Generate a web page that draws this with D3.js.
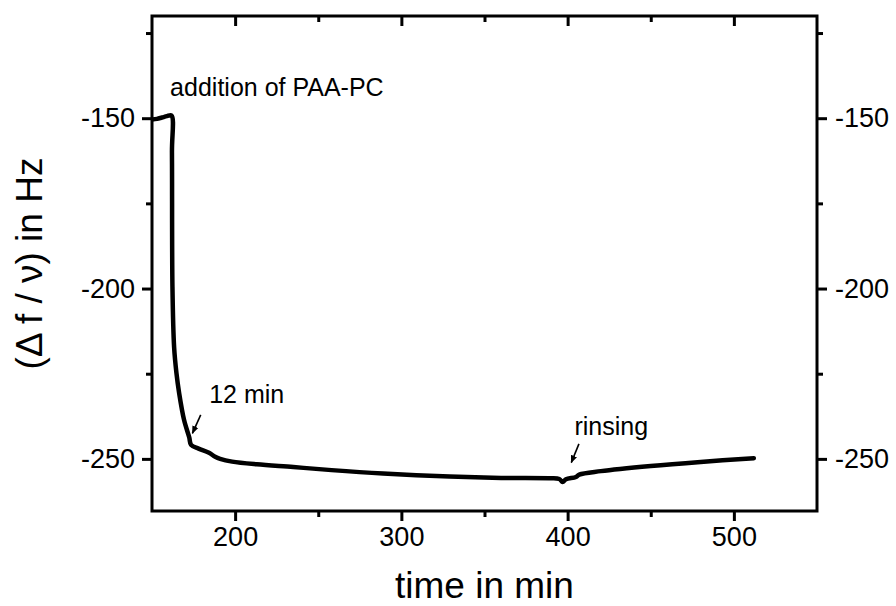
<!DOCTYPE html>
<html>
<head>
<meta charset="utf-8">
<script src="https://cdn.jsdelivr.net/npm/d3@7"></script>
<style>
  body { margin: 0; background: #fff; }
  text { font-family: "Liberation Sans", Arial, sans-serif; fill: #000; }
</style>
</head>
<body>
<div id="chart"></div>
<script>

    // time in min
    var time = [150, 153, 156, 159, 161.7, 162.0, 162.3, 163.3, 164.7, 166.3, 169.3, 172.4, 173.5,
                178, 184.3, 188, 191, 198.2, 213, 235, 258, 289, 329, 360, 389, 395, 397, 399,
                405, 407, 420, 450, 480, 512];
    // (delta f / nu) in Hz
    var df = [-150.4, -150.2, -149.8, -149.4, -149.2, -160, -199.5, -217.2, -224.8, -230.6, -238.6, -243.7, -245.9,
              -247, -248.2, -249.4, -250.0, -250.8, -251.6, -252.4, -253.3, -254.3, -255.2, -255.6, -255.7, -255.9, -256.8, -256,
              -255.3, -254.6, -253.6, -252.1, -250.9, -249.8];

    var xMajor = [200, 300, 400, 500];
    var xMinor = [250, 350, 450];
    var yMajor = [-150, -200, -250];
    var yMinor = [-125, -175, -225];

    // annotations: [label, text t, text v, arrow from t, v, arrow to t, v]
    var notes = [
      ["addition of PAA-PC", 160.9, -143.5, null, null, null, null],
      ["12 min", 184.4, -233.6, 179.3, -237.1, 174.3, -242.5],
      ["rinsing", 404.1, -243, 406.8, -245.6, 402.2, -251.1]
    ];

    //=========================================================================
    // Dimensions
    //=========================================================================
    var width = 896, height = 606;
    var margin = { top: 16, right: 79, bottom: 95, left: 152 };

    var svg = d3.select("#chart")
      .append("svg")
      .attr("width", width)
      .attr("height", height);

    var x = d3.scaleLinear()
      .domain([150, 550])
      .range([margin.left, width - margin.right]);

    var y = d3.scaleLinear()
      .domain([-265.3, -120])
      .range([height - margin.bottom, margin.top]);

    var plotB = height - margin.bottom, plotT = margin.top;
    var plotL = margin.left, plotR = width - margin.right;

    //=========================================================================
    // Axes
    //=========================================================================
    function styleAxis(g) {
      g.select(".domain").remove();
      g.selectAll(".tick line").attr("stroke", "#000").attr("stroke-width", 3);
      g.selectAll(".tick text")
        .style("font-size", "27px")
        .style("font-family", "'Liberation Sans', Arial, sans-serif")
        .attr("fill", "#000");
    }

    var fmt = function(d) { return String(d); };

    svg.append("g").attr("transform", `translate(0,${plotB})`)
      .call(d3.axisBottom(x).tickValues(xMajor).tickSize(10).tickPadding(6).tickFormat(fmt))
      .call(styleAxis);
    svg.append("g").attr("transform", `translate(0,${plotB})`)
      .call(d3.axisBottom(x).tickValues(xMinor).tickSize(6).tickFormat(""))
      .call(styleAxis);

    svg.append("g").attr("transform", `translate(0,${plotT})`)
      .call(d3.axisTop(x).tickValues(xMajor).tickSize(-10).tickFormat(""))
      .call(styleAxis);
    svg.append("g").attr("transform", `translate(0,${plotT})`)
      .call(d3.axisTop(x).tickValues(xMinor).tickSize(-6).tickFormat(""))
      .call(styleAxis);

    svg.append("g").attr("transform", `translate(${plotL},0)`)
      .call(d3.axisLeft(y).tickValues(yMajor).tickSize(10).tickPadding(7).tickFormat(fmt))
      .call(styleAxis);
    svg.append("g").attr("transform", `translate(${plotL},0)`)
      .call(d3.axisLeft(y).tickValues(yMinor).tickSize(6).tickFormat(""))
      .call(styleAxis);

    svg.append("g").attr("transform", `translate(${plotR},0)`)
      .call(d3.axisRight(y).tickValues(yMajor).tickSize(10).tickPadding(8).tickFormat(fmt))
      .call(styleAxis);
    svg.append("g").attr("transform", `translate(${plotR},0)`)
      .call(d3.axisRight(y).tickValues(yMinor).tickSize(6).tickFormat(""))
      .call(styleAxis);

    // frame
    svg.append("rect")
      .attr("x", plotL).attr("y", plotT)
      .attr("width", plotR - plotL).attr("height", plotB - plotT)
      .attr("fill", "none").attr("stroke", "#000").attr("stroke-width", 3);

    //=========================================================================
    // Titles
    //=========================================================================
    svg.append("text")
      .attr("x", (plotL + plotR) / 2).attr("y", 598)
      .attr("text-anchor", "middle")
      .style("font-size", "37px")
      .text("time in min");

    svg.append("text")
      .attr("transform", `translate(42,${(plotT + plotB) / 2}) rotate(-90)`)
      .attr("text-anchor", "middle")
      .style("font-size", "37px")
      .text("(\u0394 f / \u03BD) in Hz");

    //=========================================================================
    // Curve
    //=========================================================================
    var line = d3.line()
      .x(function(d, i) { return x(time[i]); })
      .y(function(d, i) { return y(df[i]); })
      .curve(d3.curveCatmullRom.alpha(0.5));

    svg.append("clipPath").attr("id", "plotclip")
      .append("rect").attr("x", plotL).attr("y", plotT)
      .attr("width", plotR - plotL).attr("height", plotB - plotT);

    svg.append("path")
      .datum(time)
      .attr("clip-path", "url(#plotclip)")
      .attr("d", line)
      .attr("fill", "none")
      .attr("stroke", "#000")
      .attr("stroke-width", 4.5)
      .attr("stroke-linejoin", "round")
      .attr("stroke-linecap", "round");

    //=========================================================================
    // Annotations
    //=========================================================================
    svg.append("defs").append("marker")
      .attr("id", "arrow")
      .attr("viewBox", "0 0 10 10")
      .attr("refX", 9).attr("refY", 5)
      .attr("markerWidth", 5).attr("markerHeight", 5)
      .attr("markerUnits", "strokeWidth")
      .attr("orient", "auto")
      .append("path").attr("d", "M0,1 L10,5 L0,9 Z").attr("fill", "#000");

    notes.forEach(function(n) {
      svg.append("text")
        .attr("x", x(n[1])).attr("y", y(n[2]))
        .style("font-size", "25px")
        .text(n[0]);
      if (n[3] !== null) {
        svg.append("line")
          .attr("x1", x(n[3])).attr("y1", y(n[4]))
          .attr("x2", x(n[5])).attr("y2", y(n[6]))
          .attr("stroke", "#000").attr("stroke-width", 1.6)
          .attr("marker-end", "url(#arrow)");
      }
    });

</script>
</body>
</html>
